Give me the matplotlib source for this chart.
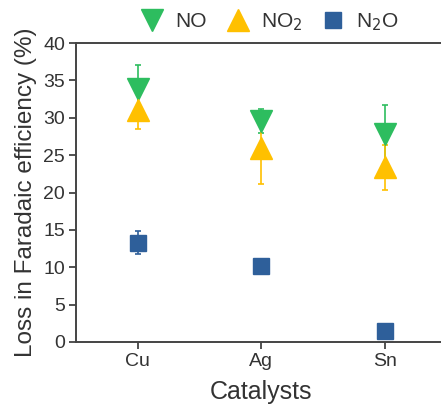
import numpy as np
import matplotlib.pyplot as plt
from matplotlib.lines import Line2D

plt.rcParams['font.family'] = ['Liberation Sans', 'DejaVu Sans']

catalysts = ['Cu', 'Ag', 'Sn']
no_vals = [33.8, 29.6, 27.8]
no_err = [3.3, 1.6, 3.9]
no2_vals = [31.0, 26.0, 23.4]
no2_err = [2.5, 4.8, 3.0]
n2o_vals = [13.3, 10.2, 1.5]
n2o_err = [1.5, 0.3, 0.3]

green = '#2DBD5F'
yellow = '#FFC000'
blue = '#2E5F9A'
text_col = '#333333'

fig = plt.figure(figsize=(4.41, 4.04), dpi=100)
ax = fig.add_axes([76 / 441, 1 - 342 / 404, 0.84, (342 - 43) / 404])

x = np.arange(len(catalysts))
eb = dict(elinewidth=1.2, capsize=2.5, capthick=1.2)
ax.errorbar(x, no_vals, yerr=no_err, fmt='v', color=green, ms=15.5, **eb)
ax.errorbar(x, no2_vals, yerr=no2_err, fmt='^', color=yellow, ms=15.5, **eb)
ax.errorbar(x, n2o_vals, yerr=n2o_err, fmt='s', color=blue, ms=12, **eb)

ax.set_xlim(-0.5, 2.5)
ax.set_ylim(0, 40)
ax.set_yticks(np.arange(0, 41, 5))
ax.set_xticks(x)
ax.set_xticklabels(catalysts)
ax.tick_params(labelsize=14, length=5, width=1.2, pad=3, color=text_col, labelcolor=text_col)
for s in ax.spines.values():
    s.set_linewidth(1.4)
    s.set_color('#444444')

ax.set_xlabel('Catalysts', fontsize=18, color=text_col, labelpad=7)
ax.set_ylabel('Loss in Faradaic efficiency (%)', fontsize=17.5, color=text_col, labelpad=4)

# legend with plain markers only
handles = [
    Line2D([], [], ls='none', marker='v', color=green, ms=15.5),
    Line2D([], [], ls='none', marker='^', color=yellow, ms=15.5),
    Line2D([], [], ls='none', marker='s', color=blue, ms=12),
]
labels = ['NO', 'NO$_2$', 'N$_2$O']
fig.legend(handles, labels, loc='center', bbox_to_anchor=(270 / 441, 1 - 22 / 404),
           ncol=3, frameon=False, fontsize=15, handlelength=1.0, handletextpad=0.6,
           columnspacing=1.0, labelcolor=text_col)

fig.savefig('out.png', dpi=100)
